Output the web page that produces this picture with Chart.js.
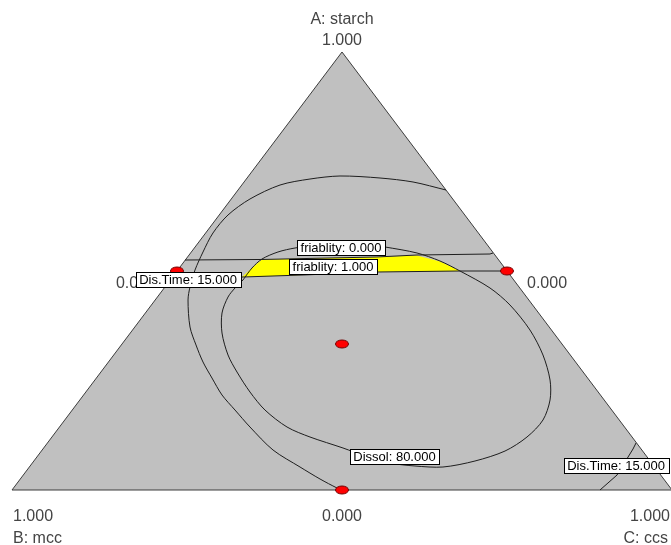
<!DOCTYPE html>
<html>
<head>
<meta charset="utf-8">
<script src="https://cdn.jsdelivr.net/npm/chart.js@4.4.1/dist/chart.umd.min.js"></script>
<style>
  html, body { margin: 0; padding: 0; background: #fff; }
  canvas { display: block; }
</style>
</head>
<body>
<canvas id="overlay" width="671" height="545"></canvas>
<script>
// Plot coordinates: x = C + A/2, y = A  (B: mcc bottom left, C: ccs bottom right, A: starch on top)
const triangle = [[0, 0], [0.5, 1], [1, 0], [0, 0]];

// contour traces, [x, y]
const outerArc = [
  [0.6576, 0.6849], [0.6076, 0.7032], [0.5576, 0.7123], [0.4970, 0.7169], [0.4515, 0.7100],
  [0.4061, 0.6963], [0.3606, 0.6644], [0.3273, 0.6279], [0.3045, 0.5868], [0.2894, 0.5434],
  [0.2773, 0.5023], [0.2697, 0.4635], [0.2667, 0.4338], [0.2697, 0.3721], [0.2788, 0.3311],
  [0.2894, 0.2922], [0.3030, 0.2557], [0.3182, 0.2169], [0.3379, 0.1826], [0.3606, 0.1438],
  [0.3955, 0.0913], [0.4364, 0.0525], [0.4667, 0.0251], [0.4924, 0.0046], [0.5, 0]
];

const innerLoop = [
  [0.3500, 0.4795], [0.3636, 0.5068], [0.3788, 0.5274], [0.4030, 0.5434], [0.4288, 0.5525],
  [0.4667, 0.5594], [0.5045, 0.5616], [0.5424, 0.5594], [0.5652, 0.5548], [0.6136, 0.5411],
  [0.6485, 0.5228], [0.6788, 0.5000], [0.7242, 0.4612], [0.7545, 0.4224], [0.7848, 0.3653],
  [0.8045, 0.3082], [0.8152, 0.2511], [0.8152, 0.2055], [0.8045, 0.1598], [0.7803, 0.1210],
  [0.7470, 0.0890], [0.7015, 0.0662], [0.6530, 0.0525], [0.6106, 0.0548], [0.5727, 0.0616],
  [0.5348, 0.0776], [0.5015, 0.0959], [0.4515, 0.1210], [0.4167, 0.1438], [0.3833, 0.1826],
  [0.3606, 0.2237], [0.3409, 0.2694], [0.3273, 0.3082], [0.3182, 0.3584], [0.3182, 0.4041],
  [0.3273, 0.4406], [0.3379, 0.4612], [0.3500, 0.4795]
];

const friabLine = [[0.2621, 0.5251], [0.3788, 0.5263], [0.5530, 0.5320], [0.6136, 0.5365], [0.7242, 0.5388], [0.7288, 0.5411]];
const disTimeLine = [[0.2409, 0.4817], [0.3500, 0.4863], [0.4409, 0.4909], [0.5530, 0.4977], [0.6788, 0.5000], [0.7500, 0.5000]];
const disTimeCorner = [[0.8909, 0], [0.9030, 0.0160], [0.9167, 0.0342], [0.9288, 0.0639], [0.9409, 0.0936], [0.9455, 0.1073]];

// feasible window (yellow)
const sweetSpot = [
  [0.3485, 0.4863], [0.3636, 0.5068], [0.3788, 0.5263], [0.5530, 0.5320], [0.6136, 0.5354],
  [0.6485, 0.5217], [0.6788, 0.5000], [0.5530, 0.4977], [0.4409, 0.4909], [0.3485, 0.4863]
];

// design points as mixture fractions
const designA = [0.5, 0.5, 1 / 3, 0];
const designC = [0, 0.5, 1 / 3, 0.5];

const contourText = ["friablity: 0.000", "friablity: 1.000", "Dis.Time: 15.000", "Dis.Time: 15.000", "Dissol: 80.000"];
const contourAt = [[0.4985, 0.5537], [0.4864, 0.5114], [0.2667, 0.4806], [0.9152, 0.0559], [0.5795, 0.0776]];

const vertexNames = ["A: starch", "B: mcc", "C: ccs"];
const highText = "1.000";
const lowText = "0.000";

const xy = pts => pts.map(p => ({ x: p[0], y: p[1] }));

// red oval marker
const dot = document.createElement("canvas");
dot.width = 16; dot.height = 10;
const dctx = dot.getContext("2d");
dctx.beginPath();
dctx.ellipse(8, 5, 6.5, 4, 0, 0, Math.PI * 2);
dctx.fillStyle = "#ff0000";
dctx.fill();
dctx.lineWidth = 1;
dctx.strokeStyle = "#700000";
dctx.stroke();

const curve = (pts, tension = 0) => ({
  type: "line", data: xy(pts), showLine: true, fill: false,
  borderColor: "#1e1e1e", borderWidth: 1, pointRadius: 0, tension
});

const ternaryText = {
  id: "ternaryText",
  afterDatasetsDraw(chart) {
    const { ctx, scales: { x, y } } = chart;
    const px = (a, b) => [x.getPixelForValue(a), y.getPixelForValue(b)];
    const [ax, ay] = px(0.5, 1);
    const [bx, by] = px(0, 0);
    const [cx, cy] = px(1, 0);

    ctx.save();
    ctx.font = '16px "Liberation Sans", Arial, sans-serif';
    ctx.fillStyle = "#444";
    ctx.textBaseline = "middle";

    ctx.textAlign = "center";
    ctx.fillText(vertexNames[0], ax, ay - 32);
    ctx.fillText(highText, ax, ay - 11);
    const [mx, my] = px(0.5, 0);
    ctx.fillText(lowText, mx, my + 27);

    ctx.textAlign = "left";
    ctx.fillText(highText, bx + 1, by + 27);
    ctx.fillText(vertexNames[1], bx + 1, by + 49);
    const [rx, ry] = px(0.75, 0.5);
    ctx.fillText(lowText, rx + 20, ry + 13);

    ctx.textAlign = "right";
    ctx.fillText(highText, cx - 2, cy + 27);
    ctx.fillText(vertexNames[2], cx - 4, cy + 49);
    const [lx, ly] = px(0.25, 0.5);
    ctx.fillText(lowText, lx - 21, ly + 13);

    // contour labels in boxes
    ctx.font = '13px "Liberation Sans", Arial, sans-serif';
    ctx.textAlign = "center";
    contourText.forEach((t, i) => {
      const [tx, ty] = px(contourAt[i][0], contourAt[i][1]);
      const w = Math.round(ctx.measureText(t).width) + 7;
      const h = 15;
      const left = Math.round(tx - w / 2) + 0.5;
      const top = Math.round(ty - h / 2) + 0.5;
      ctx.fillStyle = "#fff";
      ctx.fillRect(left, top, w, h);
      ctx.strokeStyle = "#000";
      ctx.lineWidth = 1;
      ctx.strokeRect(left, top, w, h);
      ctx.fillStyle = "#000";
      ctx.fillText(t, tx, ty + 1);
    });
    ctx.restore();
  }
};

new Chart(document.getElementById("overlay"), {
  type: "scatter",
  data: {
    datasets: [
      {
        type: "scatter",
        data: designA.map((a, i) => ({ x: designC[i] + a / 2, y: a })),
        pointStyle: dot, pointRadius: 6
      },
      curve(friabLine),
      curve(disTimeLine),
      curve(disTimeCorner),
      curve(innerLoop, 0.3),
      curve(outerArc, 0.3),
      {
        type: "line", data: xy(sweetSpot), showLine: true, fill: "shape",
        backgroundColor: "#ffff00", borderWidth: 0, borderColor: "rgba(0,0,0,0)", pointRadius: 0
      },
      {
        type: "line", data: xy(triangle), showLine: true, fill: "shape",
        backgroundColor: "#c0c0c0", borderColor: "#3c3c3c", borderWidth: 1, pointRadius: 0
      }
    ]
  },
  options: {
    responsive: false,
    animation: false,
    devicePixelRatio: 1,
    layout: { padding: 0, autoPadding: false },
    plugins: { legend: { display: false }, tooltip: { enabled: false } },
    scales: {
      x: { type: "linear", display: false, min: -12 / 660, max: 659 / 660 },
      y: { type: "linear", display: false, min: -55 / 438, max: 490 / 438 }
    }
  },
  plugins: [ternaryText]
});
</script>
</body>
</html>
